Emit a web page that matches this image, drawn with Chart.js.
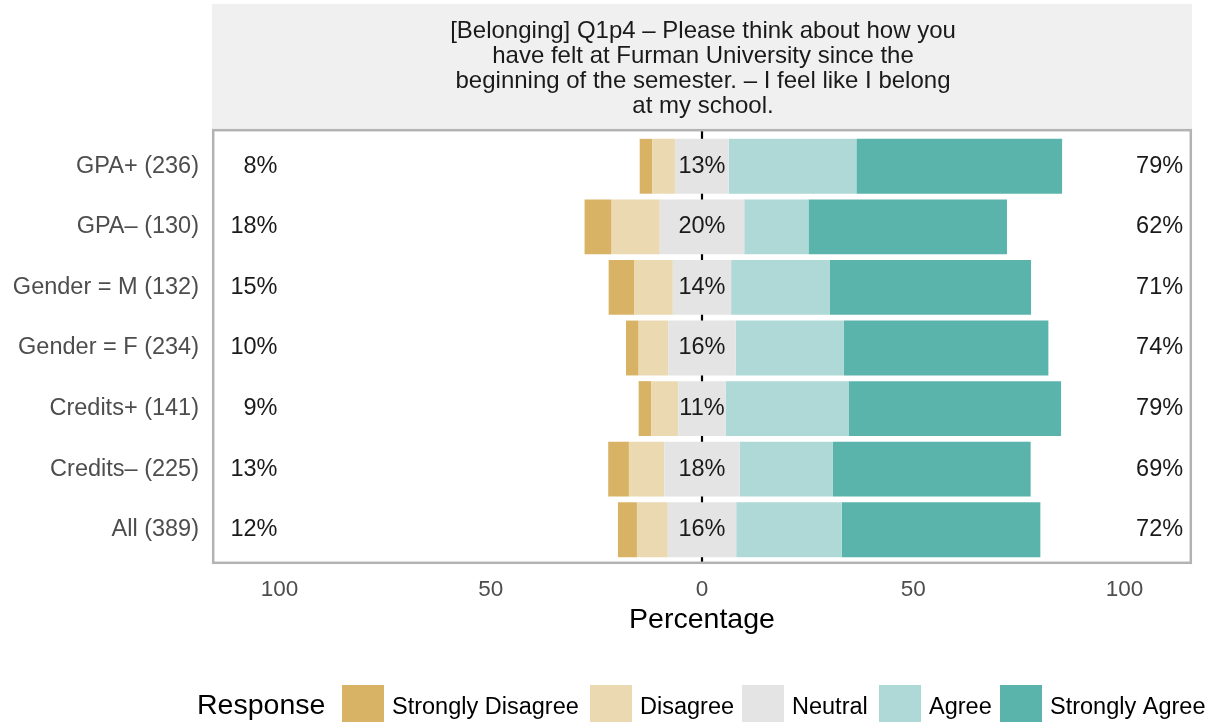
<!DOCTYPE html>
<html>
<head>
<meta charset="utf-8">
<script src="https://cdn.jsdelivr.net/npm/chart.js@4.4.1/dist/chart.umd.min.js"></script>
<style>
  html, body { margin: 0; padding: 0; background: #fff; }
</style>
</head>
<body>
<canvas id="likert" width="1218" height="724"></canvas>
<script>
// Likert diverging bars — Belonging Q1p4

const groups = ['GPA+ (236)', 'GPA\u2013 (130)', 'Gender = M (132)', 'Gender = F (234)',
                'Credits+ (141)', 'Credits\u2013 (225)', 'All (389)'];

// percentages per response level (rows follow groups)
const stronglyDisagree = [3.0, 6.4, 6.0, 3.0, 3.0, 4.9, 4.5];
const disagree         = [5.4, 11.4, 9.2, 7.0, 6.4, 8.4, 7.3];
const neutral          = [12.7, 20.0, 13.8, 16.0, 11.2, 17.8, 16.2];
const agree            = [30.2, 15.2, 23.4, 25.6, 29.2, 22.1, 25.0];
const stronglyAgree    = [48.7, 47.0, 47.6, 48.4, 50.2, 46.8, 47.0];

const responses = ['Strongly Disagree', 'Disagree', 'Neutral', 'Agree', 'Strongly Agree'];
const xTicks = [-100, -50, 0, 50, 100];

const titleLines = [
  '[Belonging] Q1p4 \u2013 Please think about how you',
  'have felt at Furman University since the',
  'beginning of the semester. \u2013 I feel like I belong',
  'at my school.',
];

const COLORS = {
  sd: '#D8B365',
  d:  '#EBD9B2',
  n:  '#E4E4E4',
  a:  '#AED9D6',
  sa: '#5AB4AC',
};
const LEGEND_COLORS = [COLORS.sd, COLORS.d, COLORS.n, COLORS.a, COLORS.sa];

const FONT = "'Liberation Sans', Arial, Helvetica, sans-serif";

const low  = stronglyDisagree.map((v, i) => v + disagree[i]);
const high = agree.map((v, i) => v + stronglyAgree[i]);

// ── decorations: facet strip, panel border, zero line, labels, legend ──
const decor = {
  id: 'decor',
  beforeDraw(chart) {
    const { ctx } = chart;
    ctx.save();
    ctx.fillStyle = '#fff';
    ctx.fillRect(0, 0, chart.width, chart.height);
    // strip
    ctx.fillStyle = '#F0F0F0';
    ctx.fillRect(212, 4, 980, 125);
    ctx.fillStyle = '#1A1A1A';
    ctx.font = `24px ${FONT}`;
    ctx.textAlign = 'center';
    ctx.textBaseline = 'middle';
    titleLines.forEach((t, i) => ctx.fillText(t, 703, 31 + i * 25));
    ctx.restore();
  },
  beforeDatasetsDraw(chart) {
    const { ctx } = chart;
    const x0 = chart.scales.x.getPixelForValue(0);
    ctx.save();
    ctx.strokeStyle = '#000';
    ctx.lineWidth = 2.2;
    ctx.beginPath();
    ctx.moveTo(x0, 130);
    ctx.lineTo(x0, 564);
    ctx.stroke();
    ctx.restore();
  },
  afterDraw(chart) {
    const { ctx } = chart;
    const xs = chart.scales.x, ys = chart.scales.y;
    ctx.save();
    // panel border
    ctx.strokeStyle = '#B3B3B3';
    ctx.lineWidth = 2.5;
    ctx.strokeRect(213.2, 130.2, 977.6, 432.6);

    // value labels
    ctx.fillStyle = '#1A1A1A';
    ctx.font = `23.5px ${FONT}`;
    ctx.textBaseline = 'middle';
    groups.forEach((g, i) => {
      const y = ys.getPixelForValue(i);
      ctx.textAlign = 'center';
      ctx.fillText(Math.round(neutral[i]) + '%', xs.getPixelForValue(0), y);
      ctx.textAlign = 'right';
      ctx.fillText(Math.round(low[i]) + '%', xs.getPixelForValue(-100.5), y);
      ctx.fillText(Math.round(high[i]) + '%', xs.getPixelForValue(113.9), y);
    });

    // legend
    ctx.fillStyle = '#000';
    ctx.font = `28.5px ${FONT}`;
    ctx.textAlign = 'left';
    ctx.fillText('Response', 197, 706);
    const swX = [342, 590, 742, 879, 1000];
    ctx.font = `23.5px ${FONT}`;
    responses.forEach((r, i) => {
      ctx.fillStyle = LEGEND_COLORS[i];
      ctx.fillRect(swX[i], 685, 42, 37);
      ctx.fillStyle = '#000';
      ctx.fillText(r, swX[i] + 50, 708);
    });
    ctx.restore();
  },
};

function bar(label, data, color) {
  return {
    label, data,
    backgroundColor: color,
    borderWidth: 0,
    categoryPercentage: 1,
    barPercentage: 0.906,
  };
}

new Chart(document.getElementById('likert'), {
  type: 'bar',
  data: {
    labels: groups,
    datasets: [
      // negative side, nearest zero first
      bar('Neutral', neutral.map(v => -v / 2), COLORS.n),
      bar('Disagree', disagree.map(v => -v), COLORS.d),
      bar('Strongly Disagree', stronglyDisagree.map(v => -v), COLORS.sd),
      // positive side
      bar('Neutral', neutral.map(v => v / 2), COLORS.n),
      bar('Agree', agree, COLORS.a),
      bar('Strongly Agree', stronglyAgree, COLORS.sa),
    ],
  },
  options: {
    indexAxis: 'y',
    responsive: false,
    devicePixelRatio: 1,
    animation: false,
    layout: { padding: { top: 136, right: 26, bottom: 84, left: 0 } },
    plugins: { legend: { display: false }, tooltip: { enabled: false } },
    scales: {
      x: {
        stacked: true,
        min: -116, max: 116,
        afterBuildTicks: s => { s.ticks = xTicks.map(v => ({ value: v })); },
        ticks: {
          callback: v => String(Math.abs(v)),
          color: '#4D4D4D',
          font: { family: FONT, size: 22.5 },
          padding: 16,
          maxRotation: 0,
        },
        grid: { display: false, drawTicks: false },
        border: { display: false },
        title: {
          display: true, text: 'Percentage', color: '#000',
          font: { family: FONT, size: 28.5 },
          padding: { top: 0, bottom: 3 },
        },
        afterFit: s => { s.height = 80; },
      },
      y: {
        stacked: true,
        ticks: {
          color: '#4D4D4D',
          font: { family: FONT, size: 23.5 },
          padding: 13,
        },
        grid: { display: false, drawTicks: false },
        border: { display: false },
        afterFit: s => { s.width = 212; },
      },
    },
  },
  plugins: [decor],
});
</script>
</body>
</html>
